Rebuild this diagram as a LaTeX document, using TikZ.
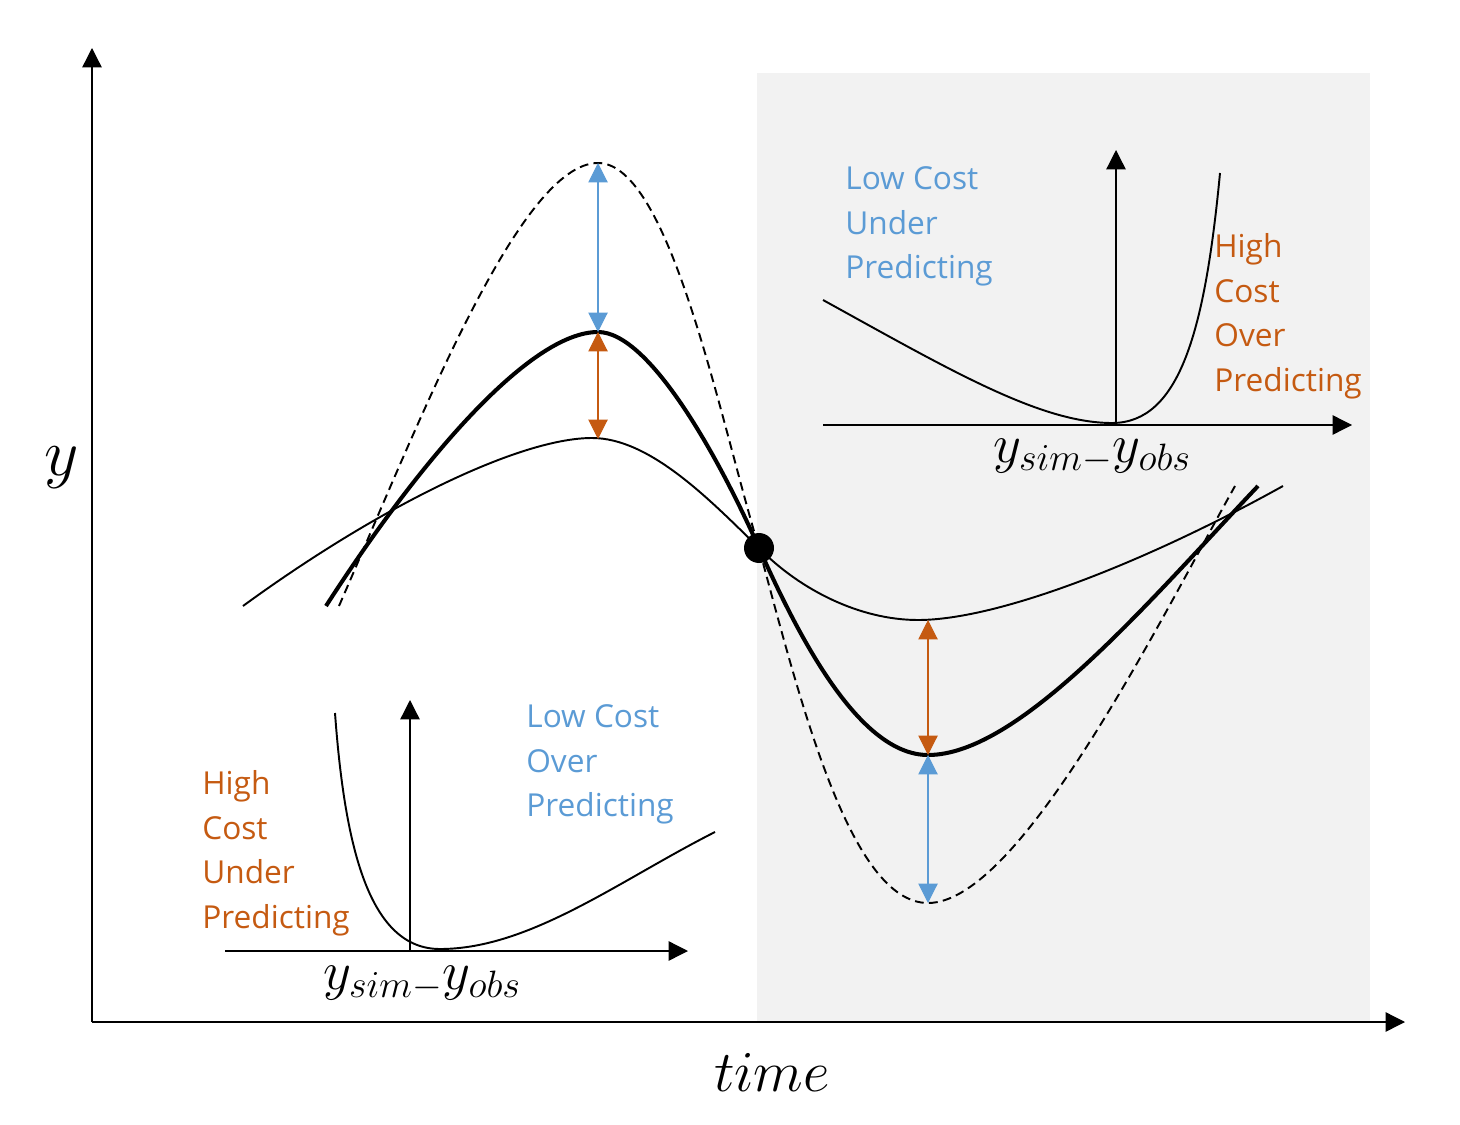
\RequirePackage{fix-cm}
\documentclass[tikz,border=0pt]{standalone}
\usepackage{fontspec}
\setmainfont{Open Sans}
\usetikzlibrary{arrows.meta}
\definecolor{lowblue}{HTML}{5B9BD5}
\definecolor{highorange}{HTML}{C55A11}
\definecolor{bggray}{HTML}{F2F2F2}

\begin{document}
\begin{tikzpicture}[x=0.02cm, y=-0.02cm, >={Triangle[length=11pt,width=11pt]},
  every node/.style={font=\fontsize{18}{25.5}\selectfont, inner sep=0pt}]

\useasboundingbox (0,0) rectangle (1460,1125);

% Shaded half
\fill[bggray] (757,73) rectangle (1370,1021);

% Main axes
\coordinate (O) at (92,1022);
\coordinate (ytop) at (92,48);
\coordinate (xend) at (1405,1022);
\draw[->,line width=0.75pt] (O) -- (ytop);
\draw[->,line width=0.75pt] (O) -- (xend);
\node at (62,468) (ylab) {\fontsize{38}{38}\selectfont $y$};
\node at (772,1072) (tlab) {\fontsize{33}{33}\selectfont $time$};

% Curve points
\coordinate (dpeak) at (598,163);
\coordinate (kpeak) at (598,332);
\coordinate (tpeak) at (598,439);
\coordinate (tmin) at (928,620);
\coordinate (kmin) at (928,755);
\coordinate (dmin) at (928,903);

% Thin curve
\draw[line width=1.1pt] (243,606) .. controls (380,506) and (520,438) .. (592,438)
  .. controls (650,438) and (710,500) .. (759,548)
  .. controls (800,590) and (860,620) .. (918,620)
  .. controls (1000,620) and (1150,560) .. (1283,486);

% Thick curve
\draw[line width=2.3pt] (326,606) .. controls (420,460) and (530,332) .. (kpeak)
  .. controls (650,332) and (720,460) .. (759,548)
  .. controls (800,640) and (860,755) .. (kmin)
  .. controls (1020,755) and (1150,600) .. (1258,486);

% Dashed curve
\draw[line width=1.1pt,dash pattern=on 5pt off 3pt] (339,606) .. controls (420,420) and (520,163) .. (dpeak)
  .. controls (670,163) and (720,420) .. (759,548)
  .. controls (800,700) and (850,903) .. (dmin)
  .. controls (1020,903) and (1160,620) .. (1235,486);

% Crossing point
\node[circle,fill,minimum size=0.6cm] at (759,548) (cross) {};

% Differences
\draw[<->,lowblue,line width=0.6pt] (kpeak) -- (dpeak);
\draw[<->,highorange,line width=0.6pt] (tpeak) -- (kpeak);
\draw[<->,highorange,line width=0.6pt] (tmin) -- (kmin);
\draw[<->,lowblue,line width=0.6pt] (kmin) -- (dmin);

% Inset: top right
\coordinate (aO) at (1116,425);
\coordinate (aleft) at (823,425);
\coordinate (aright) at (1352,425);
\coordinate (atop) at (1116,150);
\draw[line width=0.75pt] (aleft) -- (aO);
\draw[->,line width=0.75pt] (aO) -- (aright);
\draw[->,line width=0.75pt] (aO) -- (atop);
\draw[line width=1.1pt] (823,300) .. controls (950,370) and (1040,423) .. (1112,423)
  .. controls (1180,423) and (1205,330) .. (1220,173);
\node[anchor=north west,align=left,text=lowblue] at (845,166) (alow) {Low Cost\\Under\\Predicting};
\node[anchor=north west,align=left,text=highorange] at (1214,233) (ahigh) {High\\Cost\\Over\\Predicting};
\node at (1092,456) (alab) {\fontsize{31}{31}\selectfont $y_{sim-}y_{obs}$};

% Inset: bottom left
\coordinate (bO) at (410,951);
\coordinate (bleft) at (225,951);
\coordinate (bright) at (688,951);
\coordinate (btop) at (410,700);
\draw[line width=0.75pt] (bleft) -- (bO);
\draw[->,line width=0.75pt] (bO) -- (bright);
\draw[->,line width=0.75pt] (bO) -- (btop);
\draw[line width=1.1pt] (335,713) .. controls (345,850) and (370,949) .. (440,949)
  .. controls (530,949) and (620,880) .. (715,832);
\node[anchor=north west,align=left,text=highorange] at (202,770) (bhigh) {High\\Cost\\Under\\Predicting};
\node[anchor=north west,align=left,text=lowblue] at (526,704) (blow) {Low Cost\\Over\\Predicting};
\node at (422,983) (blab) {\fontsize{31}{31}\selectfont $y_{sim-}y_{obs}$};

\end{tikzpicture}
\end{document}
